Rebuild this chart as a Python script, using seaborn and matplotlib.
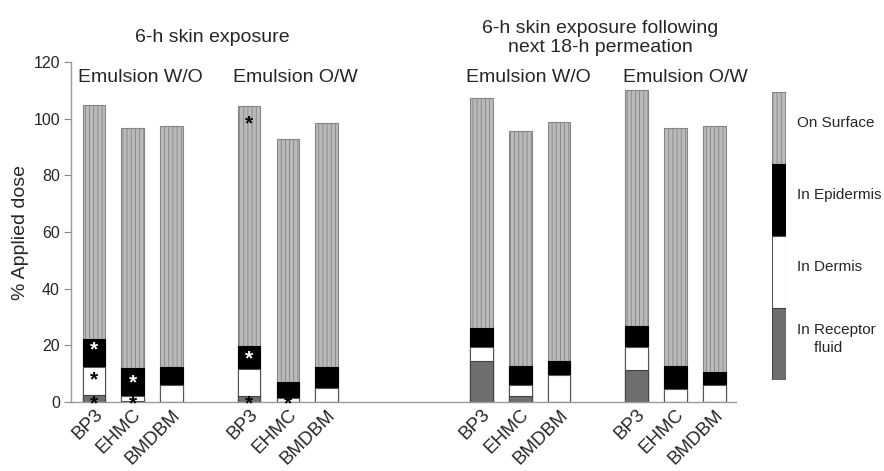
import numpy as np
import pandas as pd
import matplotlib
matplotlib.use('Agg')
import matplotlib.pyplot as plt
import seaborn as sns

# bar slots (left: 6-h exposure, right: 6-h + 18-h permeation)
compounds = ['BP3', 'EHMC', 'BMDBM'] * 4
positions = [0, 1, 2, 4, 5, 6, 10, 11, 12, 14, 15, 16]

# % applied dose per compartment
receptor = [2.5, 0.3, 0.0, 2.1, 0.0, 0.0, 14.3, 2.1, 0.0, 11.2, 0.0, 0.0]
dermis = [10.0, 1.9, 5.9, 9.4, 1.4, 5.0, 5.1, 3.9, 9.5, 8.3, 4.5, 6.0]
epidermis = [9.8, 9.7, 6.3, 8.4, 5.6, 7.2, 6.8, 6.8, 5.1, 7.5, 8.3, 4.7]
total = [105.0, 96.8, 97.3, 104.6, 93.0, 98.3, 107.4, 95.5, 99.0, 110.0, 96.8, 97.4]

group_labels = ['Emulsion W/O', 'Emulsion O/W', 'Emulsion W/O', 'Emulsion O/W']
group_centers = [1.2, 5.2, 11.2, 15.25]
panel_titles = ['6-h skin exposure', '6-h skin exposure following\nnext 18-h permeation']
panel_centers = [3.05, 13.05]
panel_baselines = [127, 123.5]

# significance marks: (slot index, y, colour)
stars = [(0, 18.3, 'white'), (0, 7.8, 'black'), (0, -0.8, 'black'),
         (1, 6.8, 'white'), (1, -0.8, 'black'),
         (3, 98.0, 'black'), (3, 15.2, 'white'), (3, -0.8, 'black'),
         (4, -0.8, 'black')]

legend_labels = ['On Surface', 'In Epidermis', 'In Dermis', 'In Receptor\n    fluid']

df = pd.DataFrame({'pos': positions, 'compound': compounds,
                   'receptor': receptor, 'dermis': dermis,
                   'epidermis': epidermis, 'total': total})
df['c_receptor'] = df['receptor']
df['c_dermis'] = df['c_receptor'] + df['dermis']
df['c_epidermis'] = df['c_dermis'] + df['epidermis']

sns.set_style('white')
plt.rcParams['font.family'] = ['Liberation Sans', 'DejaVu Sans']
plt.rcParams['hatch.linewidth'] = 0.6

fig = plt.figure(figsize=(8.84, 4.71), dpi=100)
ax = fig.add_axes([71 / 884, 1 - 402 / 471, 665 / 884, 340 / 471])

surface_style = dict(color='#bababa', edgecolor='#858585', hatch='||||', linewidth=0.8)
epidermis_style = dict(color='black', edgecolor='black', linewidth=0.8)
dermis_style = dict(color='white', edgecolor='#555555', linewidth=0.8)
receptor_style = dict(color='#6e6e6e', edgecolor='#444444', linewidth=0.8)

layers = [('total', surface_style), ('c_epidermis', epidermis_style),
          ('c_dermis', dermis_style), ('c_receptor', receptor_style)]
for col, style in layers:
    sns.barplot(data=df, x='pos', y=col, native_scale=True, width=0.58,
                errorbar=None, ax=ax, **style)

for idx, yv, c in stars:
    ax.text(positions[idx], yv, '*', color=c, ha='center', va='center',
            fontsize=15, fontweight='bold')

for lab, xc in zip(group_labels, group_centers):
    ax.text(xc, 112.8, lab, ha='center', va='baseline', fontsize=14)
for t, xc, yb in zip(panel_titles, panel_centers, panel_baselines):
    ax.text(xc, yb, t, ha='center', va='baseline', fontsize=14,
            linespacing=1.15, multialignment='center', clip_on=False)

ax.set_xlim(-0.59, 16.56)
ax.set_ylim(0, 120)
ax.set_yticks(np.arange(0, 121, 20))
ax.set_xticks(positions)
ax.set_xticklabels(compounds, rotation=45, ha='right', rotation_mode='anchor',
                   fontsize=13.5)
ax.tick_params(axis='x', length=0, pad=3)
ax.tick_params(axis='y', length=5, width=0.8, color='#888888', labelsize=11.5,
               direction='out', left=True, pad=3)
ax.set_xlabel('')
ax.set_ylabel('% Applied dose', fontsize=14, labelpad=3)
for side in ['top', 'right']:
    ax.spines[side].set_visible(False)
for side in ['left', 'bottom']:
    ax.spines[side].set_color('#9a9a9a')
    ax.spines[side].set_linewidth(1.0)

# legend strip
lax = fig.add_axes([772 / 884, 1 - 380 / 471, 14 / 884, 288 / 471])
leg_styles = [receptor_style, dermis_style, epidermis_style, surface_style]
for i in range(3, -1, -1):
    sns.barplot(x=[0], y=[i + 1], width=1.0, errorbar=None, ax=lax, **leg_styles[i])
lax.set_xlim(-0.5, 0.5)
lax.set_ylim(0, 4)
lax.axis('off')
for i, lab in enumerate(legend_labels):
    yc = 3.5 - i + 0.07
    lax.text(0.5 + 11 / 14, yc, lab, ha='left', va='center', fontsize=11,
             linespacing=1.3, transform=lax.transData, clip_on=False)

fig.savefig('out.png', dpi=100)
